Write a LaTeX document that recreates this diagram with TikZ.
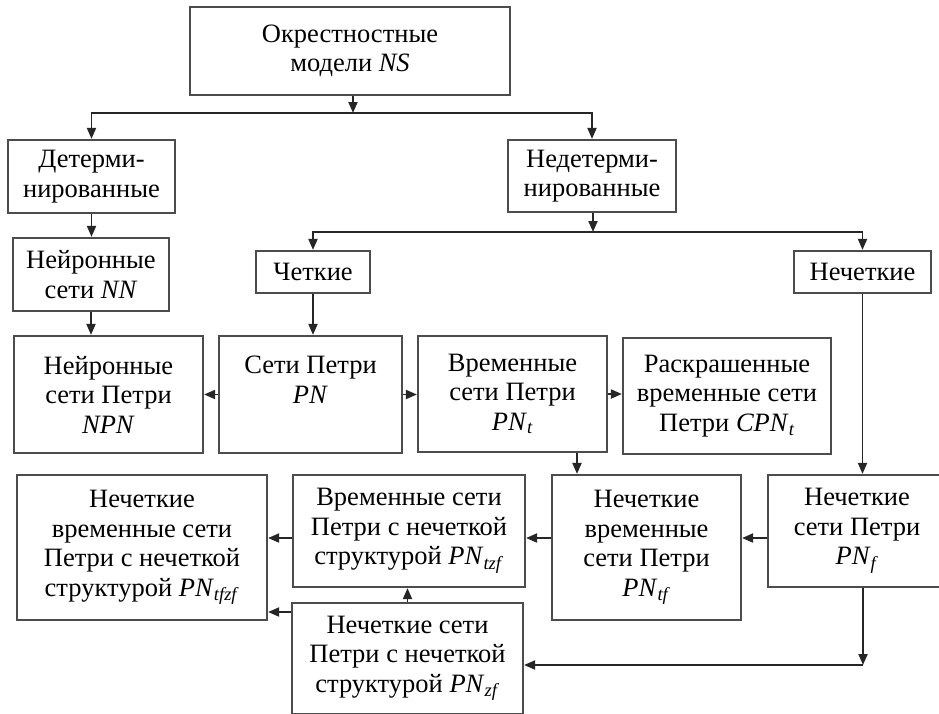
\documentclass[tikz,border=0pt]{standalone}
\usepackage{fontspec}
\setmainfont{Liberation Serif}
\usetikzlibrary{arrows.meta}
\newcommand\pnsub[2]{\textit{#1}\textsubscript{\textit{#2}}}
\begin{document}
\begin{tikzpicture}[x=1pt,y=-1pt,
  box/.style={draw=black!70, line width=2.2pt, align=center, inner sep=0pt,
    font=\fontsize{26.5}{29.5}\selectfont, fill=white},
  arr/.style={draw=black!85, line width=1.9pt, -{Triangle[length=11pt,width=9pt]}}]
\useasboundingbox (0,0) rectangle (939,713);
\clip (0,0) rectangle (939,713);
\fill[white] (0,0) rectangle (939,713);

\node[box, minimum width=320, minimum height=88] (ns) at (350,51) {Окрестностные\\модели \textit{NS}};
\node[box, minimum width=167, minimum height=73] (det) at (91.5,176.5) {Детерми-\\нированные};
\node[box, minimum width=168, minimum height=72] (ndet) at (592,176) {Недетерми-\\нированные};
\node[box, minimum width=156, minimum height=73] (nn) at (91,274.5) {Нейронные\\сети \textit{NN}};
\node[box, minimum width=114, minimum height=42] (chet) at (313,272) {Четкие};
\node[box, minimum width=137, minimum height=42] (nchet) at (862.5,272) {Нечеткие};
\node[box, minimum width=189, minimum height=117] (npn) at (108.5,394.5) {Нейронные\\сети Петри\\\textit{NPN}};
\node[box, minimum width=183, minimum height=117] (pn) at (310.5,394.5) {Сети Петри\\\textit{PN}\\\mbox{}};
\node[box, minimum width=189, minimum height=116] (pnt) at (512.5,394) {Временные\\сети Петри\\\pnsub{PN}{t}};
\node[box, minimum width=208, minimum height=116] (cpnt) at (727,396) {Раскрашенные\\временные сети\\Петри \pnsub{CPN}{t}};
\node[box, minimum width=250, minimum height=145] (pntfzf) at (142,547.5) {Нечеткие\\временные сети\\Петри с нечеткой\\структурой \pnsub{PN}{tfzf}};
\node[box, minimum width=232, minimum height=112] (pntzf) at (409,531) {Временные сети\\Петри с нечеткой\\структурой \pnsub{PN}{tzf}};
\node[box, minimum width=189, minimum height=145] (pntf) at (646.5,547.5) {Нечеткие\\временные\\сети Петри\\\pnsub{PN}{tf}};
\node[box, minimum width=178, minimum height=112] (pnf) at (857,531) {Нечеткие\\сети Петри\\\pnsub{PN}{f}};
\node[box, minimum width=231, minimum height=111] (pnzf) at (407.5,658.5) {Нечеткие сети\\Петри с нечеткой\\структурой \pnsub{PN}{zf}};

\coordinate (s1) at (353,113);
\coordinate (s2) at (593,232);
\coordinate (r1) at (0,538);
\coordinate (r2) at (0,612);
\coordinate (c1) at (863,665);
\coordinate (xt) at (577,0);

\draw[arr] (ns.south -| s1) -- (s1);
\draw[arr] (s1) -| (det.north);
\draw[arr] (s1) -| (ndet.north);
\draw[arr] (det.south) -- (det.south |- nn.north);
\draw[arr] (nn.south) -- (nn.south |- npn.north);
\draw[arr] (ndet.south -| s2) -- (s2);
\draw[arr] (s2) -| (chet.north);
\draw[arr] (s2) -| (nchet.north);
\draw[arr] (chet.south) -- (chet.south |- pn.north);
\draw[arr] (pn.west) -- (pn.west -| npn.east);
\draw[arr] (pn.east) -- (pn.east -| pnt.west);
\draw[arr] (pnt.east) -- (pnt.east -| cpnt.west);
\draw[arr] (xt |- pnt.south) -- (xt |- pntf.north);
\draw[arr] (nchet.south) -- (nchet.south |- pnf.north);
\draw[arr] (pnf.west |- r1) -- (pntf.east |- r1);
\draw[arr] (pntf.west |- r1) -- (pntzf.east |- r1);
\draw[arr] (pntzf.west |- r1) -- (pntfzf.east |- r1);
\draw[arr] (pnzf.north) -- (pnzf.north |- pntzf.south);
\draw[arr] (pnzf.west |- r2) -- (pntfzf.east |- r2);
\draw[arr] (c1 |- pnf.south) -- (c1);
\draw[arr] (c1) -- (c1 -| pnzf.east);
\end{tikzpicture}
\end{document}
